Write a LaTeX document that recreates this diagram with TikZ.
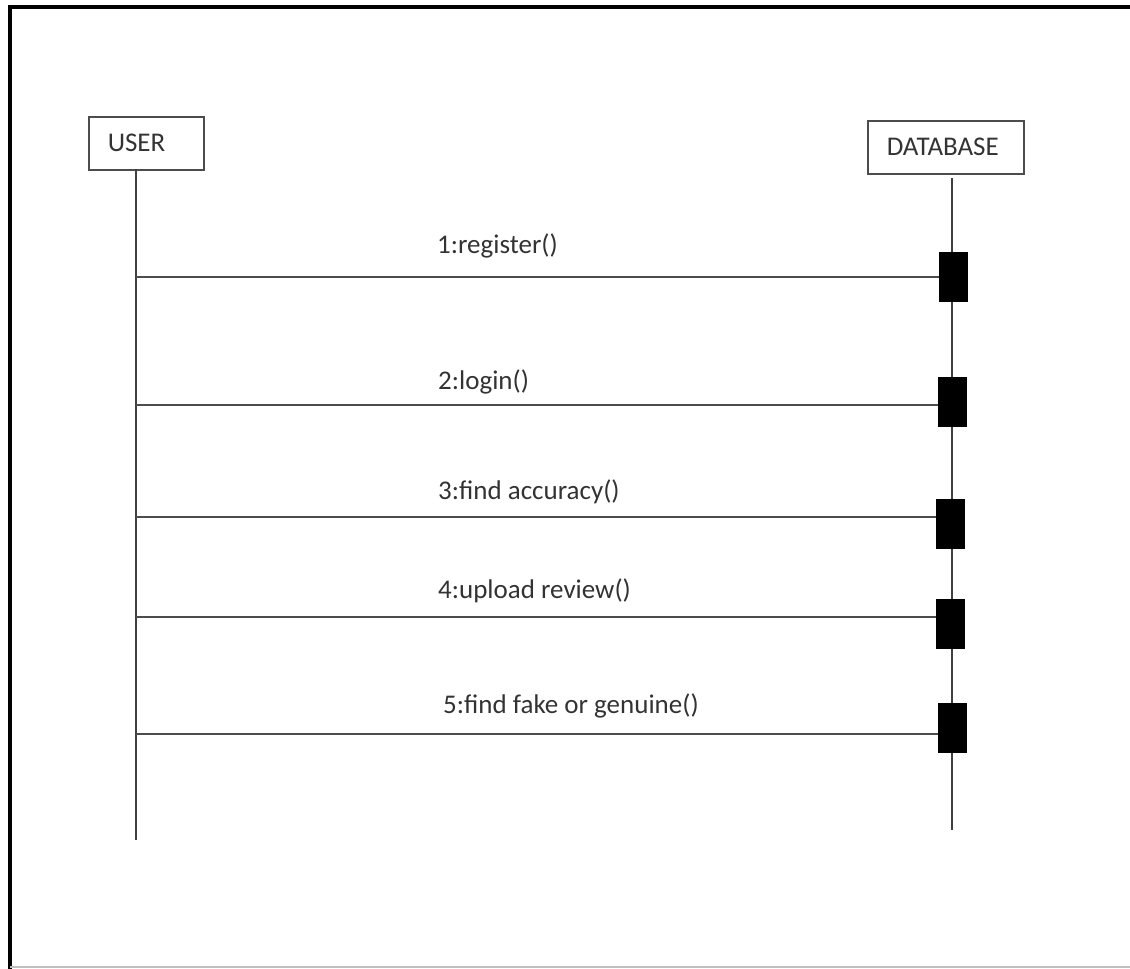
\documentclass[tikz,border=0pt]{standalone}
\usepackage{fontspec}
\setmainfont{Carlito}
\usetikzlibrary{positioning}

\tikzset{
  obj/.style={draw=black!70, line width=1.5pt, minimum height=53pt, inner xsep=19pt, inner ysep=0pt,
              align=left, text=black!80, font=\fontsize{27}{32}\selectfont},
  life/.style={draw=black!75, line width=1.6pt},
  msg/.style={draw=black!70, line width=1.8pt},
  bar/.style={fill=black, draw=black, minimum width=28pt, minimum height=49pt, inner sep=0pt},
  lbl/.style={anchor=base west, inner sep=0pt, text=black!80, font=\fontsize{27}{32}\selectfont}
}

\begin{document}
\begin{tikzpicture}[x=1pt,y=-1pt]
\useasboundingbox (0,0) rectangle (1130,969);
%frame
\draw[line width=4pt] (10,969) -- (10,7) -- (1130,7);
\draw[color=gray!50, line width=1.5pt] (10,967) -- (1130,967);
%objects
\node[obj, text width=77pt, anchor=north west] (user) at (88,116) {USER};
\node[obj, text width=118pt, anchor=north west] (db) at (867,120) {DATABASE};
%lifelines
\coordinate (utop) at (136,169);
\coordinate (ubot) at (136,840);
\coordinate (dtop) at (952,178);
\coordinate (dbot) at (952,830);
\draw[life] (utop) -- (ubot);
\draw[life] (dtop) -- (dbot);
%activation bars
\node[bar] (b1) at (953,276.5) {};
\node[bar] (b2) at (952,401.5) {};
\node[bar] (b3) at (950.5,524) {};
\node[bar] (b4) at (950.5,624) {};
\node[bar] (b5) at (952,727.5) {};
%messages
\coordinate (u1) at (136,277);
\coordinate (u2) at (136,405);
\coordinate (u3) at (136,517);
\coordinate (u4) at (136,617);
\coordinate (u5) at (136,734);
\draw[msg] (u1) -- (u1 -| b1.west);
\draw[msg] (u2) -- (u2 -| b2.west);
\draw[msg] (u3) -- (u3 -| b3.west);
\draw[msg] (u4) -- (u4 -| b4.west);
\draw[msg] (u5) -- (u5 -| b5.west);
\node[lbl] (m1) at (437,253) {1:register()};
\node[lbl] (m2) at (438,389) {2:login()};
\node[lbl] (m3) at (438,499) {3:find accuracy()};
\node[lbl] (m4) at (438,598) {4:upload review()};
\node[lbl] (m5) at (443,713) {5:find fake or genuine()};
\end{tikzpicture}
\end{document}
